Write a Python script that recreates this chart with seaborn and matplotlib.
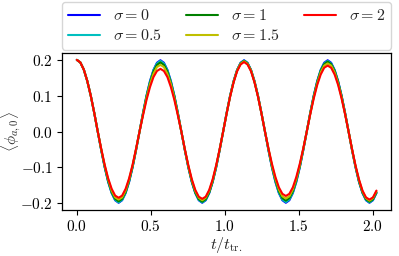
import matplotlib
matplotlib.use("Agg")
import matplotlib.pyplot as plt
import seaborn as sns
import pandas as pd

# time samples t / t_tr.
t = [0.0, 0.0235, 0.0471, 0.0706, 0.0942, 0.1177, 0.1413,
     0.1648, 0.1883, 0.2119, 0.2354, 0.2590, 0.2825, 0.3060, 0.3296, 0.3531, 0.3767, 0.4002, 0.4238,
     0.4473, 0.4708, 0.4944, 0.5179, 0.5415, 0.5650, 0.5885, 0.6121, 0.6356, 0.6592, 0.6827, 0.7063,
     0.7298, 0.7533, 0.7769, 0.8004, 0.8240, 0.8475, 0.8710, 0.8946, 0.9181, 0.9417, 0.9652, 0.9888,
     1.0123, 1.0358, 1.0594, 1.0829, 1.1065, 1.1300, 1.1535, 1.1771, 1.2006, 1.2242, 1.2477, 1.2713,
     1.2948, 1.3183, 1.3419, 1.3654, 1.3890, 1.4125, 1.4360, 1.4596, 1.4831, 1.5067, 1.5302, 1.5538,
     1.5773, 1.6008, 1.6244, 1.6479, 1.6715, 1.6950, 1.7185, 1.7421, 1.7656, 1.7892, 1.8127, 1.8363,
     1.8598, 1.8833, 1.9069, 1.9304, 1.9540, 1.9775, 2.0010, 2.0246]

phi_s0 = [0.2, 0.193, 0.173, 0.141, 0.1, 0.052, 0.0,
          -0.052, -0.1, -0.141, -0.172, -0.192, -0.199, -0.192, -0.172, -0.141, -0.1, -0.052, 0.0,
          0.052, 0.1, 0.141, 0.172, 0.192, 0.199, 0.192, 0.172, 0.141, 0.1, 0.052, 0.0,
          -0.052, -0.1, -0.141, -0.172, -0.192, -0.199, -0.192, -0.172, -0.141, -0.1, -0.052, 0.0,
          0.052, 0.1, 0.141, 0.172, 0.192, 0.199, 0.192, 0.172, 0.141, 0.1, 0.052, 0.0,
          -0.052, -0.1, -0.141, -0.172, -0.192, -0.199, -0.192, -0.172, -0.141, -0.1, -0.052, 0.0,
          0.052, 0.1, 0.141, 0.172, 0.192, 0.199, 0.192, 0.172, 0.141, 0.1, 0.052, 0.0,
          -0.052, -0.1, -0.141, -0.172, -0.192, -0.199, -0.192, -0.172]

phi_s05 = [0.2, 0.193, 0.173, 0.141, 0.1, 0.052, 0.0,
           -0.051, -0.099, -0.140, -0.171, -0.191, -0.198, -0.191, -0.171, -0.140, -0.099, -0.051, 0.0,
           0.051, 0.099, 0.139, 0.171, 0.190, 0.197, 0.190, 0.171, 0.139, 0.099, 0.051, 0.0,
           -0.051, -0.099, -0.140, -0.171, -0.191, -0.198, -0.191, -0.171, -0.140, -0.099, -0.051, 0.0,
           0.051, 0.099, 0.140, 0.171, 0.191, 0.198, 0.191, 0.171, 0.140, 0.099, 0.051, 0.0,
           -0.051, -0.099, -0.139, -0.171, -0.190, -0.197, -0.190, -0.171, -0.139, -0.099, -0.051, 0.0,
           0.051, 0.099, 0.139, 0.171, 0.190, 0.197, 0.190, 0.171, 0.139, 0.099, 0.051, 0.0,
           -0.051, -0.099, -0.140, -0.171, -0.191, -0.198, -0.191, -0.171]

phi_s1 = [0.2, 0.193, 0.173, 0.141, 0.1, 0.052, 0.0,
          -0.051, -0.098, -0.138, -0.169, -0.188, -0.195, -0.188, -0.169, -0.138, -0.098, -0.051, 0.0,
          0.050, 0.097, 0.136, 0.167, 0.186, 0.193, 0.186, 0.167, 0.136, 0.097, 0.050, 0.0,
          -0.051, -0.098, -0.139, -0.170, -0.189, -0.196, -0.189, -0.170, -0.139, -0.098, -0.051, 0.0,
          0.051, 0.099, 0.139, 0.171, 0.190, 0.197, 0.190, 0.171, 0.139, 0.099, 0.051, 0.0,
          -0.050, -0.097, -0.136, -0.167, -0.186, -0.193, -0.186, -0.167, -0.136, -0.097, -0.050, 0.0,
          0.051, 0.098, 0.138, 0.169, 0.188, 0.195, 0.188, 0.169, 0.138, 0.098, 0.051, 0.0,
          -0.051, -0.098, -0.139, -0.170, -0.189, -0.196, -0.189, -0.170]

phi_s15 = [0.2, 0.193, 0.173, 0.141, 0.1, 0.052, 0.0,
           -0.049, -0.095, -0.134, -0.165, -0.184, -0.190, -0.184, -0.165, -0.134, -0.095, -0.049, 0.0,
           0.048, 0.093, 0.132, 0.161, 0.180, 0.186, 0.180, 0.161, 0.132, 0.093, 0.048, 0.0,
           -0.050, -0.096, -0.136, -0.166, -0.185, -0.192, -0.185, -0.166, -0.136, -0.096, -0.050, 0.0,
           0.051, 0.098, 0.139, 0.170, 0.189, 0.196, 0.189, 0.170, 0.139, 0.098, 0.051, 0.0,
           -0.048, -0.094, -0.132, -0.162, -0.181, -0.187, -0.181, -0.162, -0.132, -0.094, -0.048, 0.0,
           0.049, 0.095, 0.134, 0.165, 0.184, 0.190, 0.184, 0.165, 0.134, 0.095, 0.049, 0.0,
           -0.050, -0.097, -0.136, -0.167, -0.186, -0.193, -0.186, -0.167]

phi_s2 = [0.2, 0.193, 0.173, 0.141, 0.1, 0.052, 0.0,
          -0.048, -0.093, -0.131, -0.160, -0.179, -0.185, -0.179, -0.160, -0.131, -0.093, -0.048, 0.0,
          0.045, 0.088, 0.124, 0.152, 0.169, 0.175, 0.169, 0.152, 0.124, 0.088, 0.045, 0.0,
          -0.049, -0.094, -0.133, -0.163, -0.182, -0.188, -0.182, -0.163, -0.133, -0.094, -0.049, 0.0,
          0.050, 0.097, 0.137, 0.168, 0.187, 0.194, 0.187, 0.168, 0.137, 0.097, 0.050, 0.0,
          -0.047, -0.090, -0.127, -0.156, -0.174, -0.180, -0.174, -0.156, -0.127, -0.090, -0.047, 0.0,
          0.048, 0.092, 0.130, 0.159, 0.178, 0.184, 0.178, 0.159, 0.130, 0.092, 0.048, 0.0,
          -0.049, -0.095, -0.134, -0.165, -0.184, -0.190, -0.184, -0.165]

sigma_labels = [r"$\sigma = 0$", r"$\sigma = 0.5$", r"$\sigma = 1$", r"$\sigma = 1.5$", r"$\sigma = 2$"]
series = [phi_s0, phi_s05, phi_s1, phi_s15, phi_s2]
colors = ["#0000ff", "#00bfbf", "#008000", "#bfbf00", "#ff0000"]

sns.set_theme(style="ticks")
plt.rcParams["font.family"] = "serif"
plt.rcParams["font.serif"] = ["cmr10", "DejaVu Serif"]
plt.rcParams["mathtext.fontset"] = "cm"
plt.rcParams["axes.formatter.use_mathtext"] = True
plt.rcParams["axes.unicode_minus"] = True

rows = []
for lab, vals in zip(sigma_labels, series):
    for ti, v in zip(t, vals):
        rows.append({"t": ti, "phi": v, "sigma": lab})
df = pd.DataFrame(rows)

fig = plt.figure(figsize=(3.99, 2.56), dpi=100)
ax = fig.add_axes([0.155, 0.18, 0.826, 0.614])
sns.lineplot(data=df, x="t", y="phi", hue="sigma", hue_order=sigma_labels,
             palette=dict(zip(sigma_labels, colors)), ax=ax, linewidth=1.5,
             sort=False, estimator=None)

for s in ax.spines.values():
    s.set_color("black")
    s.set_linewidth(0.9)
ax.tick_params(axis="both", labelsize=11, length=3.5, width=0.8, colors="black", pad=3)
ax.set_xticks([0.0, 0.5, 1.0, 1.5, 2.0])
ax.set_yticks([-0.2, -0.1, 0.0, 0.1, 0.2])
ax.set_xlabel(r"$t/t_{\rm tr.}$", fontsize=11.5, labelpad=1)
ax.set_ylabel(r"$\langle \phi_{a,0}\rangle$", fontsize=11, labelpad=0)
ax.yaxis.set_label_coords(-0.118, 0.5)

handles, labels = ax.get_legend_handles_labels()
ax.legend(handles, labels, bbox_to_anchor=(0, 1.02, 1, 0.2), loc="lower left",
          mode="expand", borderaxespad=0, ncol=3, fontsize=11.5, frameon=True,
          handlelength=2.0, labelspacing=0.3, columnspacing=1.0, handletextpad=0.8,
          borderpad=0.4)

fig.savefig("out.png", dpi=100)
